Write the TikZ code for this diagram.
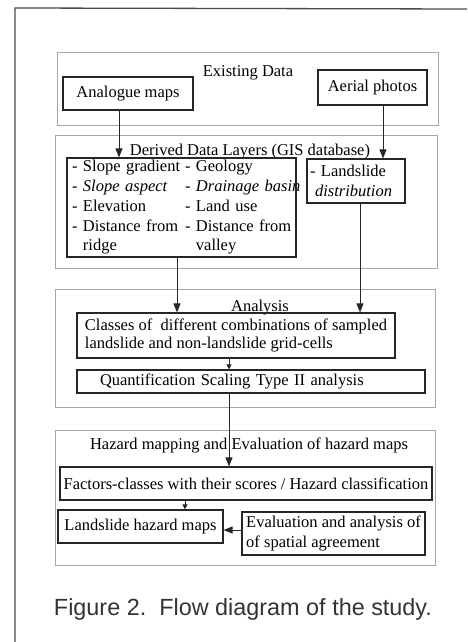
\documentclass[tikz,border=0pt]{standalone}
\usepackage{fontspec}
\setmainfont{Liberation Serif}
\setsansfont{Liberation Sans}
\usetikzlibrary{arrows.meta}

\begin{document}
\begin{tikzpicture}[
  x=1pt, y=-1pt,
  font=\fontsize{16.5}{19.75}\selectfont,
  panel/.style={draw=black!35, line width=0.8pt, inner sep=0pt},
  title/.style={anchor=base, inner sep=0pt},
  box/.style={draw=black!85, line width=1.2pt, inner sep=0pt, align=left},
  flow/.style={-{Triangle[length=9pt, width=7pt]}, line width=0.9pt, draw=black!85},
  nudge/.style={-{Triangle[length=5pt, width=5pt]}, line width=0.9pt, draw=black!85},
]
\useasboundingbox (0,0) rectangle (467,642);

% --- Outer frame -------------------------------------------------------------
\draw[black!70, line width=1.3pt] (467,9) -- (15,8) -- (15,642);

% --- Panels and their titles -------------------------------------------------
\node[panel, minimum width=381pt, minimum height=73pt]  (exist)    at (247.5,88.5) {};
\node[panel, minimum width=382pt, minimum height=133pt] (derived)  at (246,201.5)  {};
\node[panel, minimum width=380pt, minimum height=118pt] (analysis) at (245,348)    {};
\node[panel, minimum width=380pt, minimum height=135pt] (hazard)   at (245,497.5)  {};

\node[title] (existT)    at (248,76)  {Existing Data};
\node[title] (derivedT)  at (250,155) {Derived Data Layers (GIS database)};
\node[title] (analysisT) at (260,311) {Analysis};
\node[title] (hazardT)   at (249,449) {Hazard mapping and Evaluation of hazard maps};

% --- Boxes -------------------------------------------------------------------
\node[box, minimum width=130pt, minimum height=33pt] (maps)   at (128,93.5)   {Analogue maps};
\node[box, minimum width=109pt, minimum height=35pt] (photos) at (372.5,87.5) {Aerial photos};
\node[box, text width=219pt, inner xsep=5pt, minimum height=99pt] (layers) at (181.5,207.5) {%
  \begin{tabular}{@{}p{113pt}@{}l@{}}
  - Slope gradient      & - Geology\\
  - \textit{Slope aspect} & - \textit{Drainage basin}\\
  - Elevation           & - Land use\\
  - Distance from       & - Distance from\\
  \phantom{- }ridge     & \phantom{- }valley
  \end{tabular}};
\node[box, text width=92pt, inner xsep=3pt, minimum height=44pt] (slides) at (356,181) {- Landslide\\\hspace*{5pt}\textit{distribution}};
\node[box, minimum width=318pt, minimum height=45pt] (classes) at (236,335.5) {Classes of~ different combinations of sampled\\[-1.5pt]landslide and non-landslide grid-cells};
\node[box, text width=302pt, inner xsep=23pt, minimum height=23pt] (quant) at (251,381.5) {Quantification Scaling Type II analysis};
\node[box, minimum width=372pt, minimum height=33pt] (factors) at (246,483.5) {Factors-classes with their scores / Hazard classification};
\node[box, minimum width=165pt, minimum height=33pt] (hazmaps) at (140.5,526.5) {Landslide hazard maps};
\node[box, minimum width=183pt, minimum height=43pt] (eval)    at (333.5,533.5) {Evaluation and analysis of\\of spatial agreement};

% --- Caption -----------------------------------------------------------------
\node[title, font=\sffamily\fontsize{23.4}{28}\selectfont, text=black!80] (caption) at (243,615) {Figure 2.\ \ Flow diagram of the study.};

% --- Arrows ------------------------------------------------------------------
\coordinate (a1) at ([xshift=-9pt]maps.south);
\draw[flow] (a1) -- (a1 |- layers.north);
\coordinate (a2) at ([xshift=10.5pt]photos.south);
\draw[flow] (a2) -- (a2 |- slides.north);
\coordinate (a3) at ([xshift=-4.5pt]layers.south);
\draw[flow] (a3) -- (a3 |- classes.north);
\coordinate (a4) at ([xshift=4pt]slides.south);
\draw[flow] (a4) -- (a4 |- classes.north);
\coordinate (a5) at ([xshift=-7pt]classes.south);
\draw[nudge] (a5) -- (a5 |- quant.north);
\coordinate (a6) at ([xshift=-22pt]quant.south);
\draw[flow] (a6) -- (a6 |- factors.north);
\coordinate (a7) at ([xshift=-61pt]factors.south);
\draw[nudge] (a7) -- (a7 |- hazmaps.north);
\coordinate (a8) at ([yshift=3.5pt]eval.west);
\draw[flow] (a8) -- (a8 -| hazmaps.east);

\end{tikzpicture}
\end{document}
